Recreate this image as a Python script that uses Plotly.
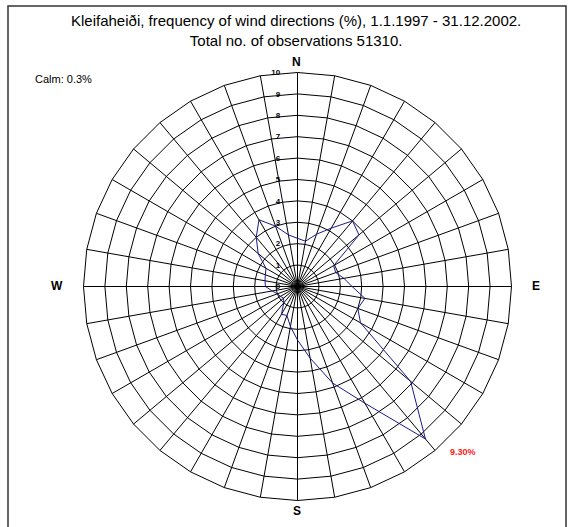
import plotly.graph_objects as go

# Wind direction sectors (degrees from north) and frequency (%) per sector
directions = list(range(0, 360, 10))
frequency = [2.25, 2.15, 2.6, 3.15, 4.0, 3.75, 1.95, 1.9, 2.2, 2.55,
             3.2, 3.0, 3.4, 6.9, 9.3, 6.3, 4.8, 3.4, 2.5, 1.9,
             1.44, 1.5, 1.0, 0.85, 0.92, 1.0, 1.2, 1.5, 1.54, 1.6,
             1.7, 2.4, 3.0, 3.6, 3.0, 2.45]
calm_pct = 0.3
n_obs = 51310
radial_ticks = list(range(0, 11))
compass_labels = ["N", "E", "S", "W"]

cats = [f"{d}°" for d in directions]

W, H = 574, 527
cx, cy, R = 297.5, 286.5, 214

fig = go.Figure()
fig.add_trace(go.Scatterpolar(
    r=frequency + frequency[:1],
    theta=cats + cats[:1],
    mode="lines",
    line=dict(color="#1a1a8c", width=1),
    hoverinfo="skip",
    showlegend=False,
))

peak = max(frequency)

# compass letters placed just outside the rim
compass_pos = {"N": (296, 62), "E": (536, 286), "S": (297, 511), "W": (57, 286)}
compass_ann = [
    dict(text=lab, x=compass_pos[lab][0] / W, y=1 - compass_pos[lab][1] / H,
         xref="paper", yref="paper", xanchor="center", yanchor="middle",
         showarrow=False, font=dict(size=12, weight="bold"))
    for lab in compass_labels
]

fig.update_layout(
    width=W, height=H,
    margin=dict(l=0, r=0, t=0, b=0),
    paper_bgcolor="white",
    font=dict(family="Liberation Sans, Arial, sans-serif", color="black"),
    polar=dict(
        domain=dict(x=[(cx - R) / W, (cx + R) / W],
                    y=[(H - cy - R) / H, (H - cy + R) / H]),
        bgcolor="white",
        gridshape="linear",
        angularaxis=dict(
            type="category",
            categoryarray=cats,
            direction="clockwise",
            rotation=90,
            tickmode="array",
            tickvals=cats,
            showticklabels=False,
            ticks="",
            showgrid=True,
            gridcolor="black",
            gridwidth=1,
            showline=True,
            linecolor="black",
            linewidth=1,
        ),
        radialaxis=dict(
            range=[0, 10],
            angle=90,
            side="counterclockwise",
            tickangle=90,
            tickmode="array",
            tickvals=radial_ticks,
            tickfont=dict(size=8, weight="bold"),
            ticks="outside",
            ticklen=14,
            tickcolor="rgba(0,0,0,0)",
            showgrid=True,
            gridcolor="black",
            gridwidth=1,
            showline=False,
        ),
    ),
    shapes=[dict(type="rect", xref="paper", yref="paper",
                 x0=8 / W, x1=566 / W, y0=-0.02, y1=1 - 6 / H,
                 line=dict(color="#333333", width=1.5))],
    annotations=[
        dict(text="Kleifaheiði, frequency of wind directions (%), 1.1.1997 - 31.12.2002."
                  f"<br>Total no. of observations {n_obs}.",
             x=296 / W, y=1 - 10 / H, xref="paper", yref="paper",
             xanchor="center", yanchor="top", showarrow=False,
             font=dict(size=15)),
        dict(text=f"Calm: {calm_pct}%", x=33 / W, y=1 - 79 / H,
             xref="paper", yref="paper", xanchor="left", yanchor="middle",
             showarrow=False, font=dict(size=11)),
        dict(text=f"{peak:.2f}%", x=463 / W, y=1 - 452 / H,
             xref="paper", yref="paper", xanchor="center", yanchor="middle",
             showarrow=False, font=dict(size=9, color="#ff2020", weight="bold")),
    ] + compass_ann,
)

fig.write_html("out.html")
